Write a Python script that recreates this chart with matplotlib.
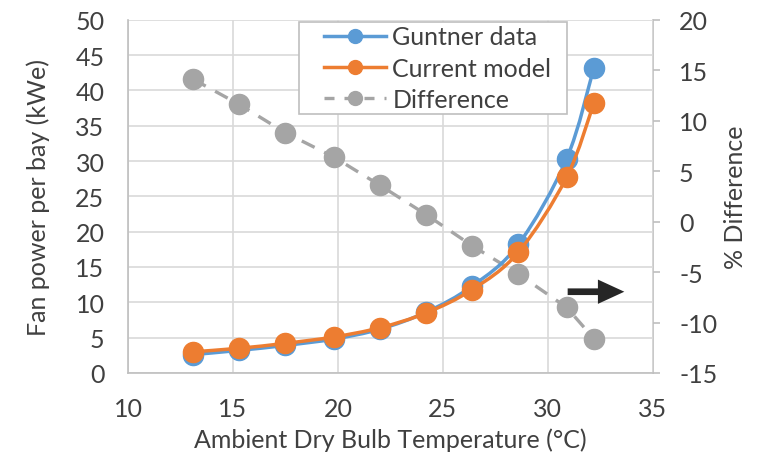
import numpy as np
import matplotlib.pyplot as plt
import matplotlib.transforms as mtransforms
from matplotlib.path import Path
from matplotlib.patches import PathPatch, Rectangle, FancyArrowPatch
from matplotlib.lines import Line2D

plt.rcParams['font.family'] = ['Lato', 'DejaVu Sans']
plt.rcParams['axes.unicode_minus'] = False

# ambient dry bulb temperature (C)
temp = [13.1, 15.3, 17.5, 19.8, 22.0, 24.2, 26.4, 28.6, 30.9, 32.2]
# fan power per bay (kWe)
guntner = [2.6, 3.2, 3.9, 4.8, 6.2, 8.6, 12.3, 18.2, 30.3, 43.2]
model = [3.0, 3.5, 4.2, 5.1, 6.4, 8.5, 11.8, 17.1, 27.7, 38.2]
# % difference (right axis)
diff = [14.1, 11.6, 8.8, 6.4, 3.6, 0.7, -2.4, -5.2, -8.5, -11.6]

blue = '#5B9BD5'
orange = '#ED7D31'
gray = '#A5A5A5'
txt = '#404040'
grid = '#D9D9D9'
fs = 18
ms = 14.5


def smooth_path(x, y):
    # excel style smoothed line as cubic bezier segments
    x = np.asarray(x, float)
    y = np.asarray(y, float)
    n = len(x)
    verts = [(x[0], y[0])]
    codes = [Path.MOVETO]
    t = 1 / 6
    for i in range(n - 1):
        x0, y0 = (x[i - 1], y[i - 1]) if i > 0 else (x[i], y[i])
        x3, y3 = (x[i + 2], y[i + 2]) if i + 2 < n else (x[i + 1], y[i + 1])
        c1 = (x[i] + (x[i + 1] - x0) * t, y[i] + (y[i + 1] - y0) * t)
        c2 = (x[i + 1] - (x3 - x[i]) * t, y[i + 1] - (y3 - y[i]) * t)
        verts += [c1, c2, (x[i + 1], y[i + 1])]
        codes += [Path.CURVE4] * 3
    return Path(verts, codes)


fig = plt.figure(figsize=(7.58, 4.6), dpi=100)
ax = fig.add_axes([0.169, 0.187, 0.692, 0.768])
ax2 = ax.twinx()
ax.set_zorder(ax2.get_zorder() + 1)
ax.patch.set_visible(False)

ax.set_xlim(10, 35)
ax.set_ylim(0, 50)
ax2.set_ylim(-15, 20)
ax.autoscale(False)

ax.set_xticks(np.arange(10, 36, 5))
ax.set_yticks(np.arange(0, 51, 5))
ax2.set_yticks(np.arange(-15, 21, 5))
ax.grid(True, color=grid, lw=1.2, zorder=0)
ax.set_axisbelow(True)

dash = (0, (4.3, 3.2))
# difference series drawn in the left axes but scaled by the right axis
tr = mtransforms.blended_transform_factory(ax.transData, ax2.transData)
ax.plot(temp, diff, color=gray, lw=2.4, ls=dash, marker='o',
        ms=ms, mec=gray, transform=tr, zorder=2)

for ys, c in [(guntner, blue), (model, orange)]:
    ax.add_patch(PathPatch(smooth_path(temp, ys), fc='none', ec=c, lw=2.5,
                           zorder=3))
    ax.plot(temp, ys, ls='none', marker='o', ms=ms, color=c, zorder=3)

# arrow pointing to the right axis
arrow = FancyArrowPatch((30.95, 11.5), (33.65, 11.5),
                        arrowstyle='simple,head_length=19,head_width=17.5,'
                                   'tail_width=4.8',
                        mutation_scale=1, fc='#262626', ec='none',
                        shrinkA=0, shrinkB=0, zorder=5)
ax.add_patch(arrow)

for s in ['top', 'right']:
    ax.spines[s].set_visible(False)
for s in ['top', 'left', 'bottom']:
    ax2.spines[s].set_visible(False)
for s in ['left', 'bottom']:
    ax.spines[s].set_color('#BFBFBF')
    ax.spines[s].set_linewidth(1.2)
ax2.spines['right'].set_color('#BFBFBF')
ax2.spines['right'].set_linewidth(1.2)

ax.tick_params(axis='both', length=0, labelsize=fs, labelcolor=txt)
ax.tick_params(axis='y', pad=17)
ax.tick_params(axis='x', pad=17)
ax2.tick_params(axis='y', length=5, width=1.2, color='#BFBFBF', pad=14,
                labelsize=fs, labelcolor=txt)

ax.set_xlabel('Ambient Dry Bulb Temperature (°C)', fontsize=fs, color=txt)
ax.set_ylabel('Fan power per bay (kWe)', fontsize=fs, color=txt)
ax2.set_ylabel('% Difference', fontsize=fs, color=txt)
ax.xaxis.set_label_coords(0.5, -0.155)
ax.yaxis.set_label_coords(-0.149, 0.5)
ax2.yaxis.set_label_coords(1.137, 0.5)

# legend frame drawn separately (wider side padding like the original)
ax.add_patch(Rectangle((0.326, 0.733), 0.51, 0.261, transform=ax.transAxes,
                       fc='white', ec='#BFBFBF', lw=1.2, zorder=6))
handles = [
    Line2D([], [], color=blue, lw=2.5, marker='o', ms=10),
    Line2D([], [], color=orange, lw=2.5, marker='o', ms=10),
    Line2D([], [], color=gray, lw=2.4, ls=(0, (3, 3)), marker='o', ms=10),
]
leg = ax.legend(handles, ['Guntner data', 'Current model', 'Difference'],
                loc='upper left', bbox_to_anchor=(0.373, 0.984), fontsize=fs,
                frameon=False, handlelength=2.5, borderpad=0,
                labelspacing=0.33, handletextpad=0.24, borderaxespad=0)
leg.set_zorder(7)
for t in leg.get_texts():
    t.set_color(txt)

fig.savefig('out.png', dpi=100)
